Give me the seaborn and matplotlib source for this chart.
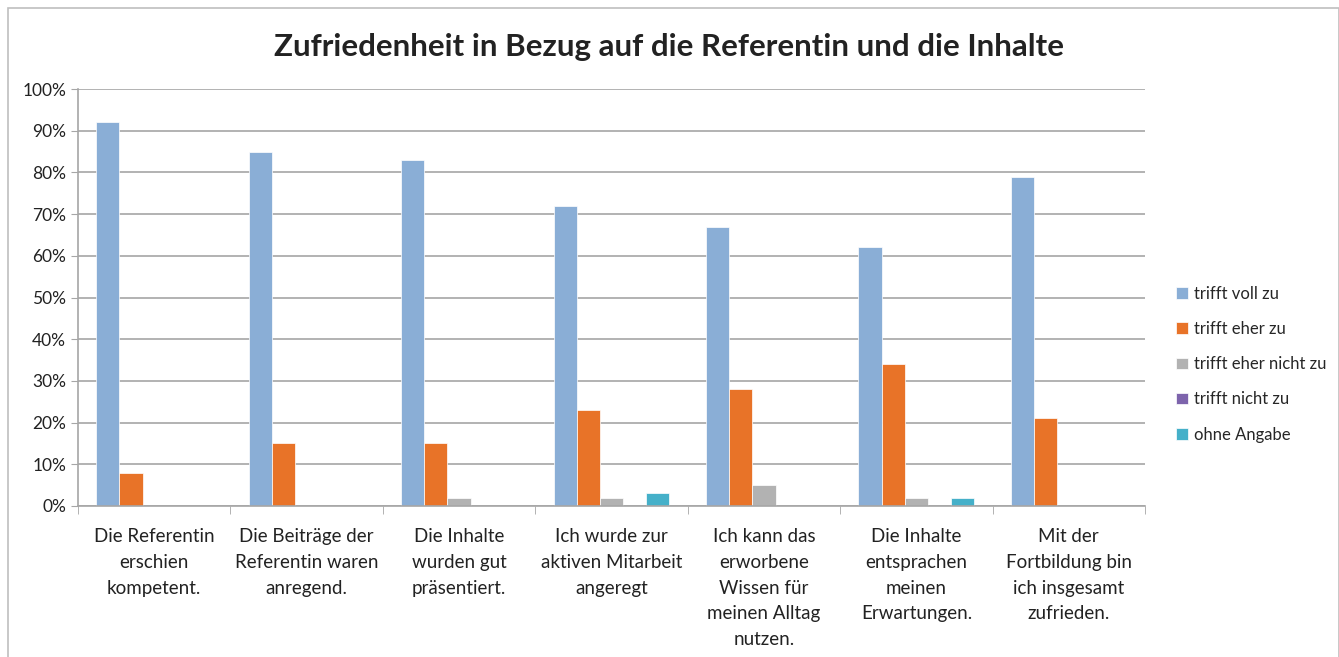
import numpy as np
import pandas as pd
import matplotlib
matplotlib.use("Agg")
import matplotlib.pyplot as plt
import seaborn as sns
from matplotlib.ticker import PercentFormatter, FixedLocator

CATEGORIES = [
    "Die Referentin\nerschien\nkompetent.",
    "Die Beiträge der\nReferentin waren\nanregend.",
    "Die Inhalte\nwurden gut\npräsentiert.",
    "Ich wurde zur\naktiven Mitarbeit\nangeregt",
    "Ich kann das\nerworbene\nWissen für\nmeinen Alltag\nnutzen.",
    "Die Inhalte\nentsprachen\nmeinen\nErwartungen.",
    "Mit der\nFortbildung bin\nich insgesamt\nzufrieden.",
]
SERIES = ["trifft voll zu", "trifft eher zu", "trifft eher nicht zu", "trifft nicht zu", "ohne Angabe"]
VOLL = [92, 85, 83, 72, 67, 62, 79]
EHER = [8, 15, 15, 23, 28, 34, 21]
EHER_NICHT = [0, 0, 2, 2, 5, 2, 0]
NICHT = [0, 0, 0, 0, 0, 0, 0]
OHNE = [0, 0, 0, 3, 0, 2, 0]
COLORS = ["#8AAED6", "#E87328", "#B2B2B2", "#7D64AC", "#45B0C9"]

rows = []
for name, vals in zip(SERIES, [VOLL, EHER, EHER_NICHT, NICHT, OHNE]):
    for cat, v in zip(CATEGORIES, vals):
        rows.append({"Frage": cat, "Antwort": name, "Wert": v})
df = pd.DataFrame(rows)

sns.set_style("white")
plt.rcParams["font.family"] = ["Lato", "DejaVu Sans"]

fig = plt.figure(figsize=(13.39, 6.57), dpi=100)
ax = fig.add_axes([78 / 1339, 1 - 506 / 657, (1145 - 78) / 1339, (506 - 89) / 657])

sns.barplot(data=df, x="Frage", y="Wert", hue="Antwort", hue_order=SERIES,
            palette=COLORS, width=0.76, saturation=1, ax=ax, errorbar=None,
            edgecolor="white", linewidth=0.5)

ax.set_ylim(0, 100)
ax.set_xlim(-0.5, len(CATEGORIES) - 0.5)
ax.yaxis.set_major_locator(FixedLocator(np.arange(0, 101, 10)))
ax.yaxis.set_major_formatter(PercentFormatter(decimals=0))
ax.grid(axis="y", color="#A6A6A6", linewidth=1.2)
ax.set_axisbelow(True)
for s in ["top", "right"]:
    ax.spines[s].set_visible(False)
for s in ["left", "bottom"]:
    ax.spines[s].set_color("#A6A6A6")
    ax.spines[s].set_linewidth(1.2)

ax.tick_params(axis="y", length=5, color="#A6A6A6", labelsize=12.5, labelcolor="#222222", left=True)
ax.tick_params(axis="x", which="major", length=0, labelsize=13.5, labelcolor="#222222", pad=16)
for lab in ax.get_xticklabels():
    lab.set_linespacing(1.62)
ax.set_xticks(np.arange(-0.5, len(CATEGORIES)), minor=True)
ax.tick_params(axis="x", which="minor", length=6, color="#A6A6A6", bottom=True)
ax.set_xlabel("")
ax.set_ylabel("")

ax.legend(loc="center left", bbox_to_anchor=(1.015, 0.34), frameon=False,
          fontsize=12, handlelength=0.7, handleheight=0.7, handletextpad=0.4,
          labelspacing=1.15)

fig.text(0.5, 1 - 47 / 657, "Zufriedenheit in Bezug auf die Referentin und die Inhalte",
         ha="center", va="center", fontsize=22.5, fontweight="bold", color="#222222")

border = plt.Rectangle((8 / 1339, -0.01), 1 - 8 / 1339, 1 - 8 / 657 + 0.01, transform=fig.transFigure,
                       fill=False, edgecolor="#BFBFBF", linewidth=1.2)
fig.patches.append(border)

fig.savefig("out.png", dpi=100)
